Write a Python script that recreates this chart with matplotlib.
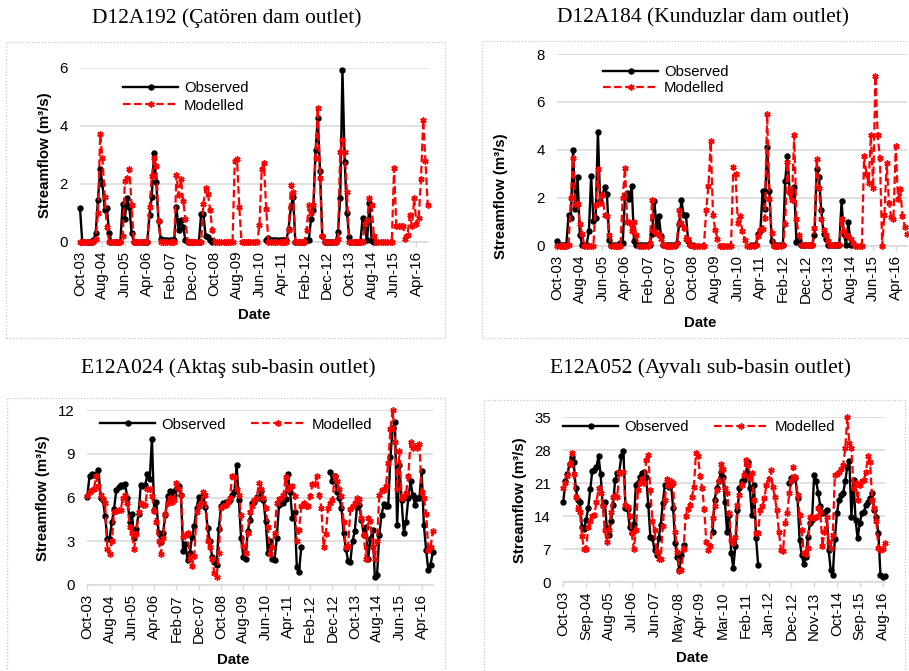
import numpy as np
import pandas as pd
import matplotlib
matplotlib.use('Agg')
import matplotlib.pyplot as plt
from matplotlib.patches import Rectangle

plt.rcParams['font.family'] = ['Liberation Sans', 'DejaVu Sans']

# monthly series, Oct-03 .. Sep-16 (156 months); None = no observation
months = pd.date_range('2003-10-01', periods=156, freq='MS').strftime('%b-%y').tolist()

# D12A192 (Çatören dam outlet)
obs1 = [1.15, 0, 0, 0, 0, 0, 0.05, 0.3, 1.45, 2.5,
        2.0, 1.1, 1.15, 0.3, 0, 0, 0, 0, 0, 1.3,
        0.8, 1.5, 1.2, 0.3, 0, 0, 0, 0, 0, 0,
        0, 0.93, 1.55, 3.05, 2.05, 0.7, 0.1, 0.05, 0.05, 0.05,
        0.05, 0.05, 0.05, 1.2, 0.4, 0.75, 0.5, 0.05, 0, 0,
        0, 0, 0, 0, 0.95, 0.95, 0.2, 0.15, 0.05, 0,
        None, None, None, None, None, None, None, None, None, None,
        None, None, None, None, None, None, None, None, None, None,
        None, None, None, 0.05, 0.12, 0.05, 0.05, 0.05, 0.05, 0.05,
        0.05, 0.05, 0.05, 0.45, 1.2, 1.55, 0, 0, 0, 0,
        0, 0.05, 0.05, 0.8, 1.1, 3.15, 4.25, 2.45, 0.2, 0,
        0, 0, 0, 0, 0, 0.35, 1.5, 5.92, 2.75, 1.0,
        0.15, 0, 0, 0, 0, 0, 0.83, 0.45, 0.05, 1.35,
        0.02, 0, None, None, None, None, None, None, None, None,
        None, None, None, None, None, None, None, None, None, None,
        None, None, None, None, None, None]
mod1 = [0, 0, 0, 0, 0, 0, 0, 0.1, 1.0, 3.7,
        2.9, 1.55, 0.5, 0, 0, 0, 0, 0, 0, 0.2,
        2.1, 2.2, 2.5, 1.25, 0, 0, 0, 0, 0, 0,
        0, 1.2, 2.25, 2.9, 2.6, 0.7, 0, 0, 0, 0,
        0, 0, 0, 2.3, 1.6, 2.15, 1.4, 0.8, 0, 0,
        0, 0, 0, 0, 0, 1.3, 1.85, 1.65, 1.1, 0.4,
        0, 0, 0, 0, 0, 0, 0, 0, 0, 2.8,
        2.85, 1.2, 0, 0, 0, 0, 0, 0, 0, 0,
        0.57, 2.5, 2.7, 1.13, 0, 0, 0, 0, 0, 0,
        0, 0, 0, 0.4, 1.95, 1.72, 0, 0, 0, 0,
        0, 0.4, 1.27, 1.0, 1.25, 2.9, 4.6, 2.2, 0.2, 0,
        0, 0, 0, 0, 0, 0.1, 3.1, 3.5, 3.1, 1.7,
        0, 0, 0, 0, 0, 0, 0, 0.6, 0.75, 1.5,
        1.25, 0.2, 0, 0, 0, 0, 0, 0, 0, 0,
        2.53, 0.55, 0.55, 0.55, 0.55, 0.11, 0.23, 0.92, 0.55, 1.5,
        0.6, 0.83, 2.15, 4.2, 2.78, 1.26]

# D12A184 (Kunduzlar dam outlet)
obs2 = [0.2, 0.03, 0.03, 0.03, 0.03, 1.3, 1.15, 4.0, 1.55, 2.87,
        0.45, 0.05, 0.03, 0.05, 0.6, 2.9, 1.05, 1.15, 4.75, 1.85,
        2.1, 2.46, 2.15, 0.25, 0.05, 0.05, 0.05, 0.05, 0.1, 0.1,
        2.05, 2.2, 1.95, 2.5, 0.2, 0.05, 0.05, 0.05, 0.05, 0.05,
        0.05, 0.05, 0.5, 1.87, 0.76, 1.25, 0.4, 0.05, 0.05, 0.05,
        0.05, 0.05, 0.05, 0.1, 0.9, 1.9, 1.3, 1.3, 0.2, 0.05,
        0.02, None, None, None, None, None, None, None, None, None,
        None, None, None, None, None, None, None, None, None, None,
        None, None, None, None, None, None, 0.02, 0.02, 0.05, 0.5,
        0.6, 2.3, 1.55, 4.12, 2.3, 0.2, 0.05, 0.05, 0.05, 0.05,
        0.05, 2.7, 3.75, 2.25, 2.05, 2.45, 0.15, 0.25, 0.05, 0.05,
        0.05, 0.05, 0.05, 0.05, 0.45, 3.2, 2.85, 1.5, 0.5, 0.3,
        0.05, 0.05, 0.05, 0.05, 0.05, 0.05, 1.85, 0.5, 0.05, 1.0,
        0.05, None, None, None, None, None, None, None, None, None,
        None, None, None, None, None, None, None, None, None, None,
        None, None, None, None, None, None]
mod2 = [0, 0, 0, 0, 0, 0.05, 2.0, 3.65, 1.75, 1.75,
        0.9, 0.5, 0, 0, 0, 0, 0, 1.7, 3.2, 1.8,
        2.1, 1.3, 1.25, 0.45, 0, 0, 0, 0, 0, 2.0,
        3.25, 1.0, 1.0, 0.6, 1.0, 0.45, 0, 0, 0, 0,
        0, 0.1, 1.9, 0.6, 0.5, 0.5, 0.3, 0.05, 0, 0,
        0, 0, 0, 0.1, 1.5, 0.95, 0.75, 0.3, 0.3, 0.05,
        0, 0, 0, 0, 0, 0, 1.5, 2.5, 4.35, 1.3,
        0.65, 0.3, 0, 0, 0, 0, 0, 0, 3.3, 3.0,
        0.95, 1.25, 0.6, 0.25, 0, 0, 0, 0, 0.05, 0.4,
        0.65, 0.7, 1.15, 5.5, 1.95, 0.55, 0, 0, 0, 0,
        0.05, 0.9, 3.5, 2.2, 1.9, 4.6, 1.1, 0.45, 0.05, 0.05,
        0.05, 0.05, 0.05, 0.05, 0.75, 3.6, 2.4, 1.1, 0.65, 0.45,
        0.2, 0.05, 0.05, 0.05, 0.05, 0.05, 1.1, 0.6, 0.45, 0.4,
        0.3, 0.1, 0, 0, 0, 0, 3.75, 3.0, 2.6, 4.6,
        2.4, 7.1, 4.6, 3.65, 0, 1.3, 3.45, 1.8, 1.2, 1.1,
        4.15, 1.95, 2.35, 1.25, 0.8, 0.5]

# E12A024 (Aktaş sub-basin outlet)
obs3 = [6.06, 7.5, 7.6, 7.55, 7.6, 7.9, 6.0, 5.83, 4.7, 3.15,
        3.15, 4.3, 5.2, 6.5, 6.75, 6.85, 6.8, 6.9, 5.95, 4.35,
        4.9, 3.2, 3.84, 4.9, 6.85, 6.8, 6.85, 7.6, 7.3, 10.0,
        5.15, 5.7, 3.55, 2.97, 3.6, 4.8, 6.1, 6.45, 6.35, 6.2,
        6.6, 6.8, 6.2, 2.3, 2.8, 1.7, 2.17, 3.3, 4.05, 5.25,
        6.05, 5.95, 6.1, 5.37, 3.9, 3.0, 1.95, 1.6, 1.4, 3.85,
        5.45, 5.6, 5.7, 5.7, 5.83, 6.2, 6.4, 8.2, 5.83, 3.2,
        1.95, 1.8, 3.7, 4.45, 5.6, 5.7, 6.06, 5.95, 6.45, 5.83,
        4.4, 2.17, 3.0, 1.78, 1.7, 3.2, 5.5, 5.7, 5.6, 5.9,
        7.6, 6.35, 4.57, 5.0, 1.25, 0.92, 2.6, None, None, None,
        None, None, None, None, None, None, None, None, None, 7.75,
        7.1, 7.5, 6.4, 6.0, 5.3, 3.55, 2.5, 1.65, 1.6, 3.0,
        3.7, 5.37, 5.5, 4.45, 3.45, 4.0, 1.8, 3.15, 3.8, 0.55,
        0.7, 3.45, 4.8, 5.55, 5.4, 5.4, 8.8, 10.75, 11.2, 4.1,
        8.2, 5.8, 3.55, 4.35, 5.95, 7.1, 6.15, 5.5, 5.95, 6.0,
        7.8, 4.1, 2.4, 1.0, 1.4, 2.25]
mod3 = [6.1, 6.4, 6.5, 6.6, 7.5, 6.8, 6.2, 5.9, 5.6, 2.5,
        2.15, 3.0, 5.0, 5.1, 5.15, 5.15, 6.0, 6.2, 5.6, 4.0,
        3.6, 2.5, 3.5, 5.0, 5.6, 5.5, 5.5, 6.6, 6.55, 6.1,
        5.1, 4.3, 3.0, 2.15, 3.2, 4.9, 5.6, 6.0, 5.7, 5.8,
        7.0, 6.6, 6.2, 3.3, 3.4, 3.6, 1.8, 1.3, 2.0, 5.0,
        5.4, 5.6, 6.4, 6.2, 3.0, 2.6, 1.8, 0.8, 0.55, 2.2,
        5.3, 5.4, 5.5, 5.7, 6.0, 7.5, 7.4, 6.6, 6.2, 4.8,
        2.7, 2.2, 3.6, 5.0, 5.4, 5.8, 6.0, 7.0, 6.6, 6.0,
        5.3, 4.0, 2.1, 2.6, 3.6, 5.6, 5.9, 6.0, 6.2, 7.4,
        6.6, 6.7, 6.8, 6.1, 3.0, 3.8, 5.4, 5.6, 5.4, 5.4,
        6.1, 6.9, 6.9, 7.5, 6.2, 5.3, 2.6, 3.5, 5.3, 5.6,
        5.8, 7.5, 7.1, 6.6, 6.1, 4.3, 2.6, 2.7, 5.2, 5.4,
        5.6, 6.0, 5.9, 4.6, 3.4, 1.8, 4.6, 4.4, 2.6, 1.8,
        3.0, 6.2, 6.5, 6.5, 6.8, 8.4, 10.7, 12.0, 9.8, 6.6,
        9.2, 6.0, 6.1, 6.3, 7.5, 9.8, 9.4, 9.5, 9.4, 9.7,
        6.4, 6.0, 4.9, 2.4, 2.6, 3.7]

# E12A052 (Ayvalı sub-basin outlet)
obs4 = [17.1, 21.4, 22.9, 25.2, 26.5, 25.5, 20.0, 17.5, 17.0, 11.8,
        11.3, 13.2, 15.7, 19.8, 23.7, 23.8, 24.5, 26.8, 22.9, 16.4,
        17.1, 11.5, 10.0, 12.9, 16.4, 21.7, 23.1, 23.5, 26.7, 27.9,
        15.8, 15.6, 11.8, 10.4, 12.3, 20.7, 21.0, 22.4, 23.1, 23.3,
        22.4, 16.4, 9.7, 9.3, 6.9, 5.8, 9.3, 12.2, 16.8, 20.7,
        20.7, 20.3, 20.7, 15.7, 8.3, 5.3, 2.6, 5.8, 7.9, None,
        None, None, None, None, None, None, None, None, None, None,
        None, None, 10.7, 17.5, 20.0, 21.4, 23.3, 22.4, 17.0, 10.7,
        14.3, 6.2, 3.1, 7.6, 15.3, 20.0, 21.4, 21.7, 22.8, 25.6,
        20.0, 14.3, 20.7, 9.3, 3.7, None, None, None, None, None,
        None, None, None, None, None, None, None, None, None, 21.0,
        22.1, 22.1, 22.1, 17.8, 9.0, 5.8, 3.8, 5.4, 9.7, 12.5,
        13.2, 22.8, 21.4, 18.9, 16.1, 14.6, 15.0, 15.3, 6.9, 2.6,
        1.6, 9.2, 14.6, 17.5, 18.5, 18.9, 21.4, 24.5, 25.7, 13.9,
        21.7, 13.2, 9.3, 12.5, 14.6, 15.0, 16.4, 17.1, 17.8, 18.9,
        15.3, 13.9, 10.4, 1.6, 1.2, 1.3]
mod4 = [20.0, 21.0, 22.5, 25.0, 27.5, 23.0, 18.0, 15.5, 15.0, 9.8,
        7.0, 7.0, 11.7, 13.0, 14.0, 14.3, 17.0, 20.0, 19.0, 16.2,
        11.0, 8.5, 11.0, 15.0, 18.0, 18.5, 18.0, 23.5, 23.2, 23.5,
        16.5, 16.0, 14.0, 10.5, 7.0, 11.0, 19.5, 21.0, 22.0, 21.0,
        26.0, 27.0, 19.5, 13.0, 11.0, 6.5, 5.0, 5.0, 12.0, 17.5,
        22.0, 20.5, 21.5, 21.0, 10.7, 6.5, 2.3, 2.6, 7.0, 14.0,
        15.5, 16.5, 18.0, 20.3, 27.5, 26.8, 22.5, 20.0, 15.5, 8.5,
        6.9, 7.6, 13.6, 16.1, 19.6, 21.4, 25.0, 24.0, 20.0, 18.9,
        14.6, 9.0, 8.3, 9.7, 16.4, 18.5, 20.7, 22.8, 26.0, 24.9,
        22.1, 23.1, 17.5, 10.4, 10.4, 15.3, 16.1, 17.8, 20.7, 22.0,
        23.8, 20.3, 18.2, 15.3, 10.7, 6.9, 6.6, 12.5, 14.6, 18.9,
        21.4, 24.5, 22.4, 18.5, 14.3, 11.1, 6.2, 5.9, 7.2, 13.9,
        13.9, 13.6, 13.9, 15.8, 15.0, 7.6, 10.7, 13.9, 8.6, 7.2,
        10.0, 22.8, 22.9, 23.5, 24.0, 24.9, 28.4, 35.0, 29.5, 28.4,
        20.0, 21.0, 17.5, 20.7, 21.4, 21.7, 23.5, 26.7, 25.6, 17.5,
        15.7, 12.9, 7.2, 6.9, 7.0, 8.3]

titles = ['D12A192 (Çatören dam outlet)', 'D12A184 (Kunduzlar dam outlet)',
          'E12A024 (Aktaş sub-basin outlet)', 'E12A052 (Ayvalı sub-basin outlet)']

W, H = 909, 671
fig = plt.figure(figsize=(W / 100, H / 100), dpi=100)


def axes_px(left, top, right, bottom):
    return fig.add_axes([left / W, 1 - bottom / H, (right - left) / W, (bottom - top) / H])


def box_px(left, top, right, bottom):
    fig.add_artist(Rectangle((left / W, 1 - bottom / H), (right - left) / W, (bottom - top) / H,
                             transform=fig.transFigure, fill=False, ec='#c8c8c8',
                             lw=0.9, ls=(0, (1, 1.5))))


def panel(ax, obs, mod, ymax, ystep, xstep, leg_xy, ncol, lspace, ylab_xy, xlab_xy):
    x = np.arange(len(obs))
    obs = np.array(obs, dtype=float)
    mod = np.array(mod, dtype=float)
    ax.plot(x, obs, color='black', lw=1.7, marker='o', ms=3.6, label='Observed',
            zorder=3, clip_on=False)
    ax.plot(x, mod, color='red', lw=1.6, ls=(0, (3.4, 1.6)), marker=(6, 2, 0), ms=4.5,
            mew=1.1, label='Modelled', zorder=4, clip_on=False)
    ax.set_xlim(0, len(obs) - 1)
    ax.set_ylim(0, ymax)
    ax.set_yticks(np.arange(0, ymax + 0.01, ystep))
    ticks = np.arange(0, len(obs), xstep)
    ax.set_xticks(ticks)
    ax.set_xticklabels([months[i] for i in ticks], rotation=90)
    ax.grid(axis='y', color='#d9d9d9', lw=1.1)
    ax.set_axisbelow(True)
    for s in ['top', 'right', 'left']:
        ax.spines[s].set_visible(False)
    ax.spines['bottom'].set_color('#d9d9d9')
    ax.spines['bottom'].set_linewidth(1.1)
    ax.spines['bottom'].set_zorder(0.5)
    ax.tick_params(axis='y', length=0, labelsize=10.8, pad=9)
    ax.tick_params(axis='x', length=3.5, width=1, color='#d9d9d9', labelsize=10.8, pad=3)
    ax.set_xlabel('Date', fontweight='bold', fontsize=10.8, va='top')
    ax.xaxis.set_label_coords(*xlab_xy)
    ax.set_ylabel('Streamflow (m³/s)', fontweight='bold', fontsize=10.8)
    ax.yaxis.set_label_coords(*ylab_xy)
    ax.legend(loc='upper left', bbox_to_anchor=leg_xy, ncol=ncol, frameon=False,
              fontsize=10.7, handlelength=3.7, handletextpad=0.4, borderpad=0,
              labelspacing=lspace, columnspacing=1.7, borderaxespad=0)


# dotted chart-area frames
box_px(6, 42, 445, 338)
box_px(482, 41, 912, 338)
box_px(7, 398, 445, 675)
box_px(484, 400, 905, 675)

ax1 = axes_px(80, 67.7, 427.7, 241.7)
ax2 = axes_px(557.3, 54, 907, 245.7)
ax3 = axes_px(87.3, 410, 432.8, 585)
ax4 = axes_px(563.3, 417.3, 884.6, 582.3)

panel(ax1, obs1, mod1, 6, 2, 10, (0.124, 0.924), 1, 0.25, (-0.080, 0.498), (0.5, -0.381))
panel(ax2, obs2, mod2, 8, 2, 10, (0.131, 0.941), 1, 0.1, (-0.141, 0.259), (0.408, -0.367))
panel(ax3, obs3, mod3, 12, 3, 10, (0.037, 0.956), 2, 0.25, (-0.107, 0.497), (0.422, -0.389))
panel(ax4, obs4, mod4, 35, 7, 11, (0.0, 0.982), 2, 0.25, (-0.113, 0.499), (0.40, -0.416))

for (cx, cy), t in zip([(227, 18), (703, 18), (228, 368), (701, 368)], titles):
    fig.text(cx / W, 1 - cy / H, t, ha='center', va='center',
             family=['Liberation Serif', 'DejaVu Serif'], fontsize=15.5)

fig.savefig('out.png', dpi=100, facecolor='white')
